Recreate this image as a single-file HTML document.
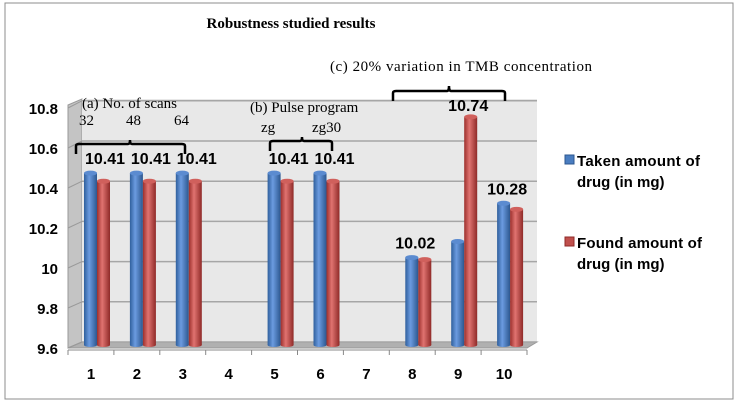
<!DOCTYPE html>
<html><head><meta charset="utf-8"><style>body{margin:0;background:#fff}svg text{font-family:"Liberation Sans",sans-serif}svg text.serif{font-family:"Liberation Serif",serif}</style></head>
<body>
<svg width="739" height="403" xmlns="http://www.w3.org/2000/svg">
<defs>
<linearGradient id="gb" x1="0" x2="1"><stop offset="0" stop-color="#2f5f9c"/><stop offset=".4" stop-color="#6b9be0"/><stop offset="1" stop-color="#2c578f"/></linearGradient>
<linearGradient id="gr" x1="0" x2="1"><stop offset="0" stop-color="#9c2f2c"/><stop offset=".4" stop-color="#e07370"/><stop offset="1" stop-color="#8f2a28"/></linearGradient>
</defs>
<rect x="5" y="3" width="728" height="396" fill="#fff" stroke="#8c8c8c"/>
<text class="serif" x="291" y="28" text-anchor="middle" font-weight="bold" font-size="15">Robustness studied  results</text>
<polygon points="68,105 82,99 82,342 68,348" fill="#c4c4c4" stroke="#999"/>
<rect x="82" y="99" width="455" height="243" fill="#e8e8e8"/>
<polygon points="68,348 82,342 537,342 527,348" fill="#b0b0b0" stroke="#999"/>
<g id="grid"></g><g id="ylab"></g><g id="bars"></g><g id="xlab"></g>
<g font-size="15" fill="#000">
<text class="serif" x="82" y="108">(a) No. of scans</text>
<text class="serif" x="79" y="125">32</text>
<text class="serif" x="126" y="125">48</text>
<text class="serif" x="174" y="125">64</text>
<text class="serif" x="250" y="112">(b) Pulse program</text>
<text class="serif" x="261" y="132">zg</text>
<text class="serif" x="312" y="132">zg30</text>
<text class="serif" x="330" y="71" textLength="262">(c) 20% variation in TMB  concentration</text>
</g>
<g fill="none" stroke="#000" stroke-width="2.5">
<path d="M76,154 V146 Q76,144 79,144 H128 Q130,144 130,140 Q130,144 132,144 H182 Q185,144 185,146 V154"/>
<path d="M270,151 V143 Q270,141 273,141 H300 Q302,141 302,137 Q302,141 304,141 H329 Q332,141 332,143 V151"/>
<path d="M393,101 V93 Q393,91 396,91 H447 Q449,91 449,86 Q449,91 451,91 H502 Q505,91 505,93 V101"/>
</g>
<g font-weight="bold" font-size="15">
<rect x="565" y="155" width="9" height="9" fill="#4a7dc0" stroke="#2c578f"/>
<text x="577" y="166" textLength="123">Taken amount of</text>
<text x="577" y="187">drug (in mg)</text>
<rect x="565" y="237" width="9" height="9" fill="#c0504d" stroke="#8f2a28"/>
<text x="577" y="248" textLength="125">Found amount of</text>
<text x="577" y="269">drug (in mg)</text>
</g>
</svg>
<script>
const categories=["1","2","3","4","5","6","7","8","9","10"];
const taken=[10.45,10.45,10.45,null,10.45,10.45,null,10.03,10.11,10.30];
const found=[10.41,10.41,10.41,null,10.41,10.41,null,10.02,10.73,10.27];
const valueLabels=["10.41","10.41","10.41","","10.41","10.41","","10.02","10.74","10.28"];
const labelSeries=["found","found","found","","found","found","","taken","found","taken"];
const yTicks=[9.6,9.8,10,10.2,10.4,10.6,10.8];
const NS="http://www.w3.org/2000/svg";
function mk(t,a,p){const e=document.createElementNS(NS,t);for(const k in a)e.setAttribute(k,a[k]);p.appendChild(e);return e;}
const yBack=v=>342-(v-9.6)*201;
const yFront=v=>348-(v-9.6)*200;
const xCat=i=>68+45.9*i+23;
const grid=document.getElementById('grid'),ylab=document.getElementById('ylab'),bars=document.getElementById('bars'),xlab=document.getElementById('xlab');
yTicks.forEach(v=>{
 const l=mk('line',{x1:82,x2:537,y1:yBack(v),y2:yBack(v),stroke:'#a6a6a6','stroke-width':1.5},grid);
 
 
 const d=mk('line',{x1:68,x2:82,y1:yFront(v),y2:yBack(v),stroke:'#999'},grid);
 
 
 const t=mk('text',{x:58,y:yFront(v)+6,'text-anchor':'end','font-weight':'bold','font-size':15},ylab);
 t.textContent=(v===10?'10':v.toFixed(1));
 
 
});
mk('line',{x1:68,x2:527,y1:350,y2:350,stroke:'#888'},xlab);
for(let i=0;i<=10;i++){const tk=mk('line',{x1:68+45.9*i,x2:68+45.9*i,y1:350,y2:355,stroke:'#888'},xlab);
 
 }
function bar(x,v,fill,edge,name){
 const top=yBack(v)+2,bot=345;
 const g=mk('g',{},bars);
 
 
 mk('rect',{x:x,y:top,width:13,height:bot-top,fill:fill},g);
 mk('ellipse',{cx:x+6.5,cy:bot,rx:6.5,ry:2,fill:fill},g);
 mk('ellipse',{cx:x+6.5,cy:top,rx:6.5,ry:2.5,fill:edge},g);
}
categories.forEach((c,i)=>{
 const cx=xCat(i);
 if(taken[i]!=null)bar(cx-7,taken[i],'url(#gb)','#5b8bd0','bar-taken-'+c);
 if(found[i]!=null)bar(cx+6,found[i],'url(#gr)','#d0605c','bar-found-'+c);
 const t=mk('text',{x:cx,y:379,'text-anchor':'middle','font-weight':'bold','font-size':15},xlab);
 t.textContent=c;
 
 
 if(valueLabels[i]){
  const v=labelSeries[i]==='taken'?taken[i]:found[i];
  const lx=labelSeries[i]==='taken'?cx+3:cx+10;
  const base=Math.max(taken[i],found[i]);
  const y=(labelSeries[i]==='found'&&found[i]>taken[i])?yBack(v)-4:yBack(base)-7;
  const lt=mk('text',{x:(i<6?cx+14:lx),y:y,'text-anchor':'middle','font-weight':'bold','font-size':16},bars);
  lt.textContent=valueLabels[i];
  
  
 }
});
</script>
</body></html>
